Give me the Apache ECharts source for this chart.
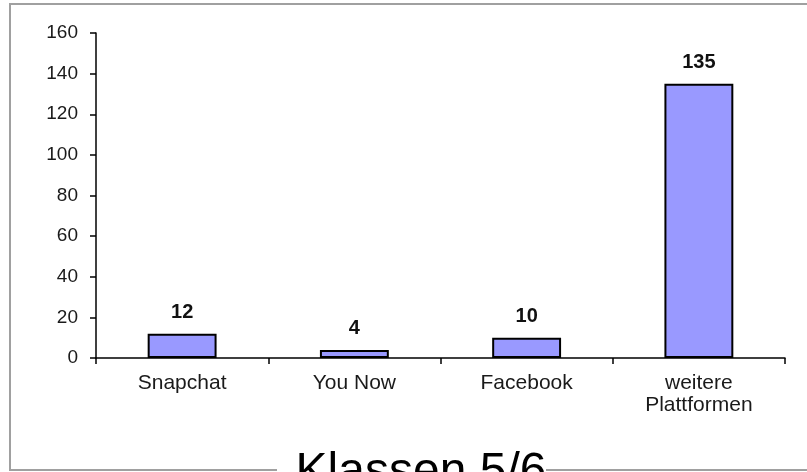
<!DOCTYPE html>
<html>
<head>
<meta charset="utf-8">
<script src="https://cdn.jsdelivr.net/npm/echarts@6/dist/echarts.min.js"></script>
<style>
html,body{margin:0;padding:0;background:#fff;}
#chart{width:807px;height:472px;}
</style>
</head>
<body>
<div id="chart"></div>
<script>
const categories = ['Snapchat', 'You Now', 'Facebook', 'weitere\nPlattformen'];
const values = [12, 4, 10, 135];
const yTicks = [0, 20, 40, 60, 80, 100, 120, 140, 160];
const titleText = 'Klassen 5/6';

const chart = echarts.init(document.getElementById('chart'), null, {renderer: 'canvas'});
const font = 'Liberation Sans, Arial, sans-serif';
chart.setOption({
  animation: false,
  backgroundColor: '#fff',
  grid: {left: 96, right: 22, top: 33, bottom: 114, containLabel: false},
  xAxis: {
    type: 'category',
    data: categories,
    axisLine: {lineStyle: {color: '#000', width: 1.5}},
    axisTick: {show: true, length: 6, lineStyle: {color: '#000', width: 1.5}},
    axisLabel: {color: '#1a1a1a', fontFamily: font, fontSize: 21, margin: 14, lineHeight: 22}
  },
  yAxis: {
    type: 'value',
    min: yTicks[0],
    max: yTicks[yTicks.length - 1],
    interval: 20,
    splitLine: {show: false},
    axisLine: {show: true, lineStyle: {color: '#000', width: 1.5}},
    axisTick: {show: true, length: 6, lineStyle: {color: '#000', width: 1.5}},
    axisLabel: {color: '#1a1a1a', fontFamily: font, fontSize: 19, margin: 18}
  },
  series: [{
    type: 'bar',
    data: values,
    barWidth: '40%',
    itemStyle: {color: '#9999FF', borderColor: '#000', borderWidth: 2},
    label: {show: true, position: 'top', distance: 11, color: '#111', fontFamily: font, fontSize: 20, fontWeight: 'bold'}
  }],
  graphic: [
    {type: 'rect', shape: {x: 10, y: 4, width: 820, height: 466}, style: {fill: 'none', stroke: '#a0a0a0', lineWidth: 2}, z: 100, silent: true},
    {type: 'rect', shape: {x: 277, y: 440, width: 269, height: 40}, style: {fill: '#fff'}, z: 101, silent: true},
    {type: 'text', x: 421, y: 473, style: {text: titleText, fill: '#000', font: '48px Liberation Sans, Arial, sans-serif', textAlign: 'center', textVerticalAlign: 'middle'}, z: 102, silent: true}
  ]
});
</script>
</body>
</html>
